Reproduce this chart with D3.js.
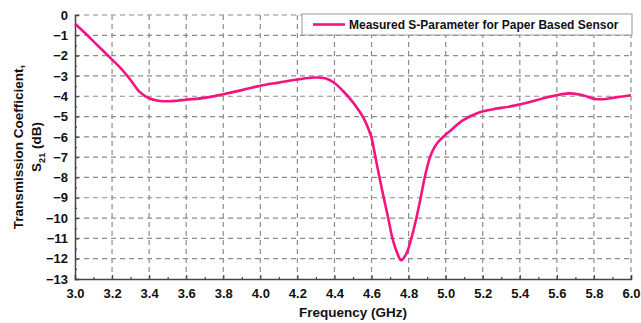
<!DOCTYPE html>
<html>
<head>
<meta charset="utf-8">
<script src="https://cdn.jsdelivr.net/npm/d3@7"></script>
<style>
  body { margin: 0; background: #fff; }
  svg text { font-family: Arial, "Liberation Sans", sans-serif; font-weight: bold; fill: #111; }
</style>
</head>
<body>
<div id="chart"></div>
<script>
// measured S21 readings (GHz, dB)
const freq = [3.0, 3.05, 3.1, 3.15, 3.2, 3.25, 3.3, 3.35, 3.4, 3.45, 3.5, 3.55, 3.6, 3.7, 3.8, 3.9, 4.0, 4.1, 4.2, 4.29, 4.35, 4.4, 4.45, 4.5, 4.528, 4.546, 4.564, 4.582, 4.6, 4.62, 4.643, 4.666, 4.69, 4.713, 4.74, 4.76, 4.788, 4.815, 4.842, 4.865, 4.887, 4.912, 4.93, 4.955, 4.99, 5.03, 5.09, 5.18, 5.25, 5.35, 5.45, 5.55, 5.67, 5.74, 5.8, 5.85, 5.9, 6.0];
const s21 = [-0.43, -0.85, -1.3, -1.75, -2.2, -2.65, -3.2, -3.8, -4.1, -4.22, -4.25, -4.22, -4.17, -4.08, -3.9, -3.7, -3.48, -3.33, -3.18, -3.08, -3.12, -3.35, -3.78, -4.3, -4.65, -4.9, -5.2, -5.58, -6.05, -6.95, -8.0, -9.0, -10.0, -11.0, -11.75, -12.08, -11.75, -11.0, -10.0, -9.0, -8.0, -7.1, -6.68, -6.3, -5.97, -5.66, -5.2, -4.8, -4.65, -4.5, -4.3, -4.05, -3.86, -3.95, -4.12, -4.15, -4.08, -3.95];
const xTicks = [3.0, 3.2, 3.4, 3.6, 3.8, 4.0, 4.2, 4.4, 4.6, 4.8, 5.0, 5.2, 5.4, 5.6, 5.8, 6.0];
const yTicks = [0, -1, -2, -3, -4, -5, -6, -7, -8, -9, -10, -11, -12, -13];
const seriesName = "Measured S-Parameter for Paper Based Sensor";

const W = 641, H = 323;
const margin = { top: 15, right: 10, bottom: 44, left: 75 },
  width = 631 - margin.left,
  height = 279 - margin.top;

const svg = d3.select("#chart").append("svg")
  .attr("width", W).attr("height", H);
const g = svg.append("g").attr("transform", `translate(${margin.left},${margin.top})`);

const x = d3.scaleLinear().domain([3, 6]).range([0, width]);
const y = d3.scaleLinear().domain([-13, 0]).range([height, 0]);

// dashed grid
g.append("g").selectAll("line").data(xTicks.slice(1)).enter().append("line")
  .attr("x1", d => x(d)).attr("x2", d => x(d)).attr("y1", 0).attr("y2", height)
  .attr("stroke", "#8c8c8c").attr("stroke-width", 1.2).attr("stroke-dasharray", "5,4");
g.append("g").selectAll("line").data(yTicks.slice(0, -1)).enter().append("line")
  .attr("x1", 0).attr("x2", width).attr("y1", d => y(d)).attr("y2", d => y(d))
  .attr("stroke", "#8c8c8c").attr("stroke-width", 1.2).attr("stroke-dasharray", "5,4");

// x axis
const xAxis = g.append("g").attr("transform", `translate(0,${height})`)
  .call(d3.axisBottom(x).tickValues(xTicks).tickFormat(d3.format(".1f")).tickSize(-4).tickPadding(10));
g.append("g").attr("transform", `translate(0,${height})`)
  .call(d3.axisBottom(x).tickValues(d3.range(3.1, 6, 0.2)).tickFormat("").tickSize(-2))
  .select(".domain").remove();

// y axis
const yAxis = g.append("g")
  .call(d3.axisLeft(y).tickValues(yTicks).tickSize(-4).tickPadding(7));
g.append("g")
  .call(d3.axisLeft(y).tickValues(d3.range(-12.5, 0, 1)).tickFormat("").tickSize(-2))
  .select(".domain").remove();

[xAxis, yAxis].forEach(a => {
  a.select(".domain").attr("stroke", "#444").attr("stroke-width", 1.5);
  a.selectAll("text").style("font-size", "13px").style("font-weight", "bold").attr("fill", "#111");
});
g.selectAll(".tick line").attr("stroke", "#444").attr("stroke-width", 1.2);

// curve
g.append("path")
  .datum(freq.map((f, i) => [f, s21[i]]))
  .attr("fill", "none")
  .attr("stroke", "#f7127f")
  .attr("stroke-width", 2.6)
  .attr("d", d3.line().x(d => x(d[0])).y(d => y(d[1])).curve(d3.curveCatmullRom.alpha(0.5)));

// legend
const leg = svg.append("g").attr("transform", "translate(302,14)");
leg.append("rect").attr("width", 330).attr("height", 21)
  .attr("fill", "#fff").attr("stroke", "#999").attr("stroke-width", 1);
leg.append("line").attr("x1", 11).attr("x2", 43).attr("y1", 10.5).attr("y2", 10.5)
  .attr("stroke", "#f7127f").attr("stroke-width", 2.6);
leg.append("text").attr("x", 47).attr("y", 15).style("font-size", "12px").text(seriesName);

// axis titles
svg.append("text").attr("x", margin.left + width / 2).attr("y", 317)
  .attr("text-anchor", "middle").style("font-size", "13.5px").text("Frequency (GHz)");
const yt = svg.append("text").attr("transform", "translate(23,147) rotate(-90)")
  .attr("text-anchor", "middle").style("font-size", "13.5px");
yt.append("tspan").attr("x", 0).attr("dy", 0).text("Transmission Coefficient,");
const l2 = yt.append("tspan").attr("x", 0).attr("dy", 18);
l2.append("tspan").text("S");
l2.append("tspan").attr("dy", 4).style("font-size", "9px").text("21");
l2.append("tspan").attr("dy", -4).text(" (dB)");
</script>
</body>
</html>
